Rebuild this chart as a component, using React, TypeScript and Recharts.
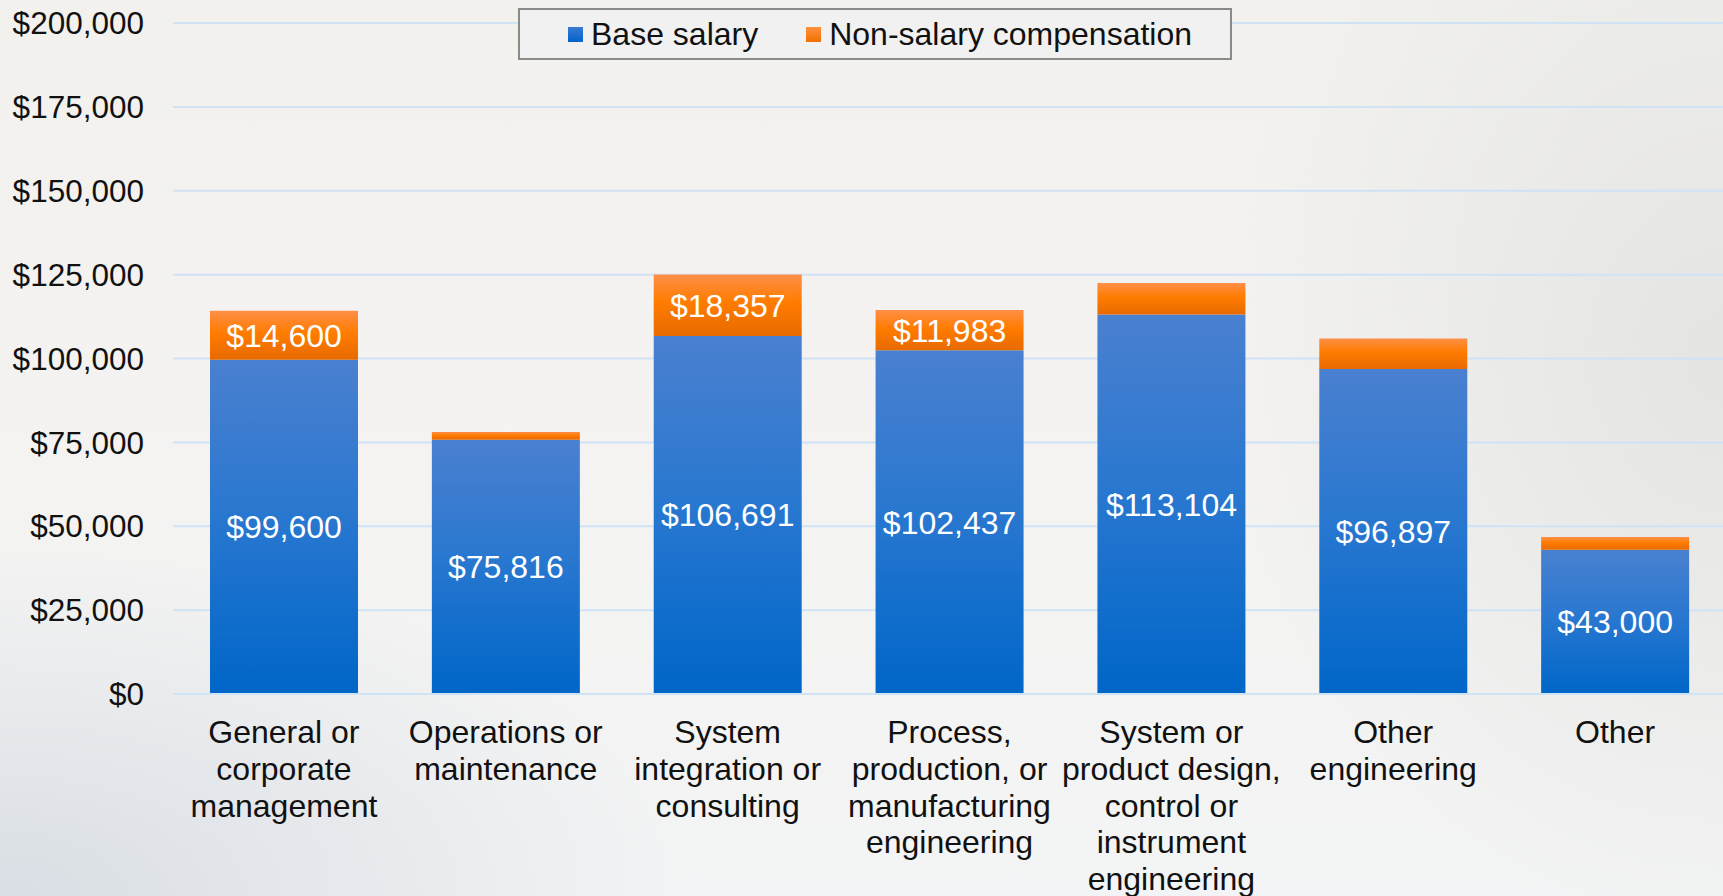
import React from "react";
import { BarChart, Bar, XAxis, YAxis, CartesianGrid, LabelList } from "recharts";

const categories = [
  "General or corporate management",
  "Operations or maintenance",
  "System integration or consulting",
  "Process, production, or manufacturing engineering",
  "System or product design, control or instrument engineering",
  "Other engineering",
  "Other",
];
const categoryLines = [
  ["General or", "corporate", "management"],
  ["Operations or", "maintenance"],
  ["System", "integration or", "consulting"],
  ["Process,", "production, or", "manufacturing", "engineering"],
  ["System or", "product design,", "control or", "instrument", "engineering"],
  ["Other", "engineering"],
  ["Other"],
];
const baseSalary = [99600, 75816, 106691, 102437, 113104, 96897, 43000];
const nonSalary = [14600, 2300, 18357, 11983, 9400, 9100, 3800];
const nonSalaryLabels = ["$14,600", "", "$18,357", "$11,983", "", "", ""];
const yTicks = [0, 25000, 50000, 75000, 100000, 125000, 150000, 175000, 200000];
const seriesNames = ["Base salary", "Non-salary compensation"];

const data = categories.map((c, i) => ({
  name: c,
  base: baseSalary[i],
  non: nonSalary[i],
  nonLabel: nonSalaryLabels[i],
}));

const FONT = "'Liberation Sans', Arial, sans-serif";
const FS = 32;
const money = (v: number) => "$" + Number(v).toLocaleString("en-US");

const XTick = (props: any) => {
  const { x, y, payload, index } = props;
  const lines = categoryLines[index] || [payload.value];
  return (
    <g transform={`translate(${x},${y})`}>
      <text textAnchor="middle" fontFamily={FONT} fontSize={FS} fill="#111">
        {lines.map((l: string, i: number) => (
          <tspan key={i} x={0} y={41 + i * 36.8}>
            {l}
          </tspan>
        ))}
      </text>
    </g>
  );
};

const LegendBox = () => (
  <div
    style={{
      position: "absolute",
      left: 518,
      top: 8,
      width: 714,
      height: 52,
      boxSizing: "border-box",
      border: "2px solid #8a8a8a",
      background: "#f1f1f1",
      display: "flex",
      alignItems: "center",
      fontFamily: FONT,
      fontSize: FS,
      color: "#111",
      whiteSpace: "nowrap",
    }}
  >
    <span style={{ display: "inline-block", width: 15, height: 15, marginLeft: 48, background: "linear-gradient(#3a7ad6,#0063c8)" }} />
    <span style={{ marginLeft: 8 }}>{seriesNames[0]}</span>
    <span style={{ display: "inline-block", width: 15, height: 15, marginLeft: 48, background: "linear-gradient(#ff9040,#f07000)" }} />
    <span style={{ marginLeft: 8 }}>{seriesNames[1]}</span>
  </div>
);

export default function App() {
  return (
    <div
      style={{
        position: "absolute",
        left: 0,
        top: 0,
        width: 1723,
        height: 896,
        overflow: "hidden",
        background:
          "radial-gradient(ellipse 700px 350px at 0% 100%, #d9dee4 0%, rgba(217,222,228,0) 100%), radial-gradient(ellipse 500px 600px at 100% 40%, #e4e4e2 0%, rgba(228,228,226,0) 100%), linear-gradient(180deg, #f2f1ee 0%, #f4f3f1 50%, #f3f4f5 100%)",
      }}
    >
      <BarChart
        width={1726}
        height={896}
        data={data}
        margin={{ top: 23, right: 0, bottom: 0, left: 0 }}
        barSize={148}
        style={{ overflow: "hidden" }}
      >
        <defs>
          <linearGradient id="blueGrad" x1="0" y1="0" x2="0" y2="1">
            <stop offset="0%" stopColor="#4a80d0" />
            <stop offset="45%" stopColor="#2a78d0" />
            <stop offset="100%" stopColor="#0066c8" />
          </linearGradient>
          <linearGradient id="orangeGrad" x1="0" y1="0" x2="0" y2="1">
            <stop offset="0%" stopColor="#ff8f48" />
            <stop offset="45%" stopColor="#ff7c00" />
            <stop offset="100%" stopColor="#e86a00" />
          </linearGradient>
        </defs>
        <CartesianGrid vertical={false} stroke="#cfe2f6" strokeWidth={2} />
        <XAxis
          dataKey="name"
          height={202}
          axisLine={{ stroke: "#cfe2f6", strokeWidth: 2 }}
          tickLine={false}
          interval={0}
          tick={<XTick />}
        />
        <YAxis
          width={173}
          domain={[0, 200000]}
          ticks={yTicks}
          axisLine={false}
          tickLine={false}
          tickSize={0}
          tickMargin={29}
          tickFormatter={money}
          tick={{ fontFamily: FONT, fontSize: 31.5, fill: "#111" }}
        />
        <Bar dataKey="base" name={seriesNames[0]} stackId="a" fill="url(#blueGrad)" isAnimationActive={false}>
          <LabelList
            dataKey="base"
            position="center"
            formatter={(v: any) => money(v)}
            fill="#ffffff"
            fontFamily={FONT}
            fontSize={FS}
          />
        </Bar>
        <Bar dataKey="non" name={seriesNames[1]} stackId="a" fill="url(#orangeGrad)" isAnimationActive={false}>
          <LabelList dataKey="nonLabel" position="center" fill="#ffffff" fontFamily={FONT} fontSize={FS} />
        </Bar>
      </BarChart>
      <LegendBox />
    </div>
  );
}
